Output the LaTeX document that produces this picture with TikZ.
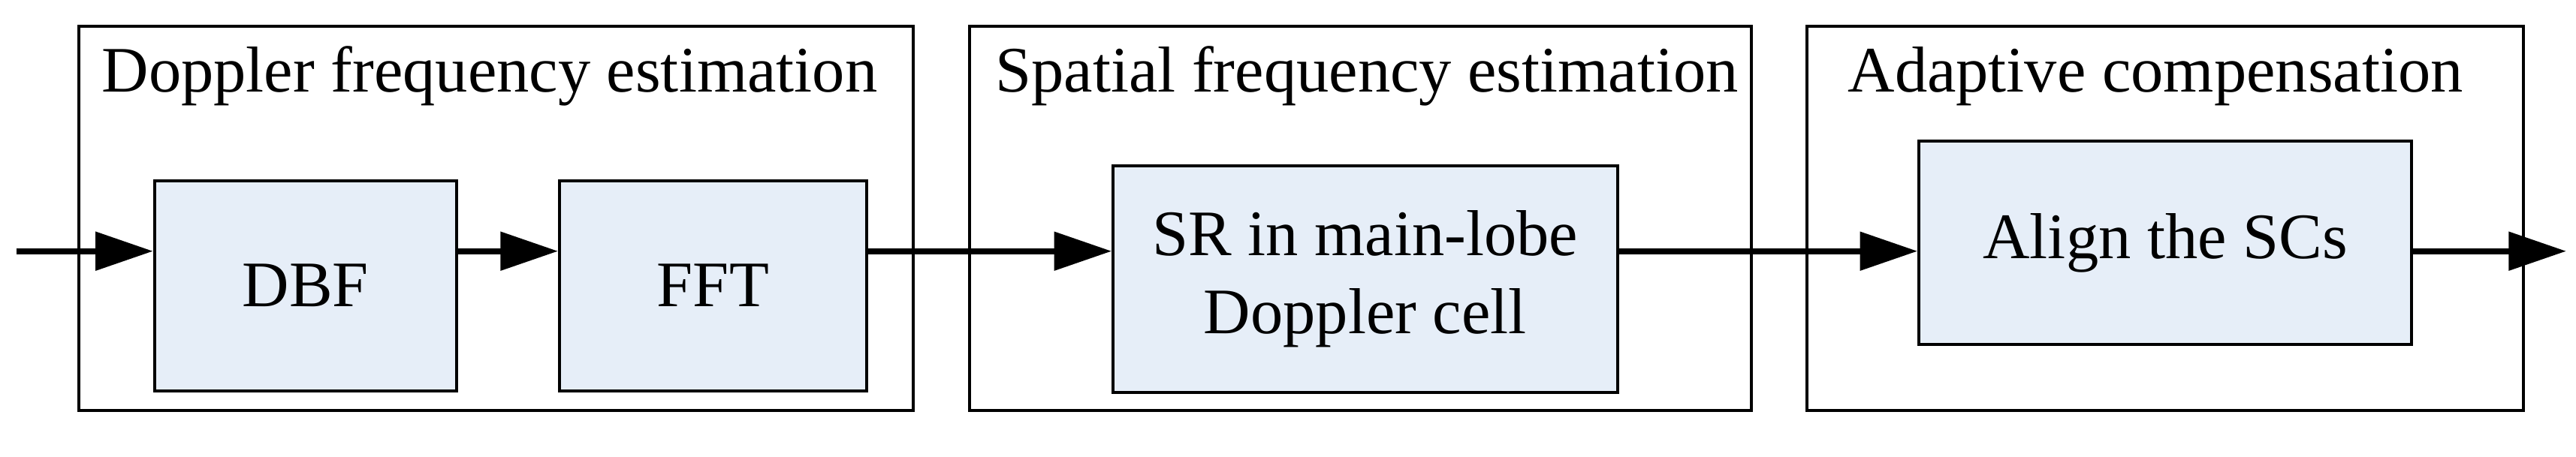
\documentclass[tikz,border=0pt]{standalone}
\usepackage{fontspec}
\setmainfont{Liberation Serif}
\usetikzlibrary{arrows.meta}
\definecolor{boxfill}{HTML}{E6EEF8}
\begin{document}
\begin{tikzpicture}[x=0.02cm,y=-0.02cm,
  frame/.style={draw,line width=1pt},
  blk/.style={draw,line width=1pt,fill=boxfill},
  ttl/.style={font=\fontsize{22.5}{27}\selectfont,anchor=base},
  txt/.style={font=\fontsize{22.5}{27}\selectfont,align=center},
  arr/.style={line width=2pt,-{Triangle[length=0.7cm,width=0.46cm]}}]
\useasboundingbox (0,0) rectangle (1568,278);
\draw[frame] (48,16) rectangle (556,250);
\draw[frame] (590,16) rectangle (1066,250);
\draw[frame] (1100,16) rectangle (1536,250);
\node[ttl] (t1) at (298,56) {Doppler frequency estimation};
\node[ttl] (t2) at (832,56) {Spatial frequency estimation};
\node[ttl] (t3) at (1312,56) {Adaptive compensation};
\node[blk,minimum width=184*0.02cm,minimum height=128*0.02cm,txt] (dbf) at (186,174) {DBF};
\node[blk,minimum width=187*0.02cm,minimum height=128*0.02cm,txt] (fft) at (434,174) {FFT};
\node[blk,minimum width=307*0.02cm,minimum height=138*0.02cm,txt] (sr) at (831,170) {SR in main-lobe\\Doppler cell};
\node[blk,minimum width=300*0.02cm,minimum height=124*0.02cm,txt] (al) at (1318,148) {Align the SCs};
\coordinate (in) at (10,153);
\coordinate (out) at (1562,153);
\draw[arr] (in) -- (dbf.west|-in);
\draw[arr] (dbf.east|-in) -- (fft.west|-in);
\draw[arr] (fft.east|-in) -- (sr.west|-in);
\draw[arr] (sr.east|-in) -- (al.west|-in);
\draw[arr] (al.east|-in) -- (out);
\end{tikzpicture}
\end{document}
